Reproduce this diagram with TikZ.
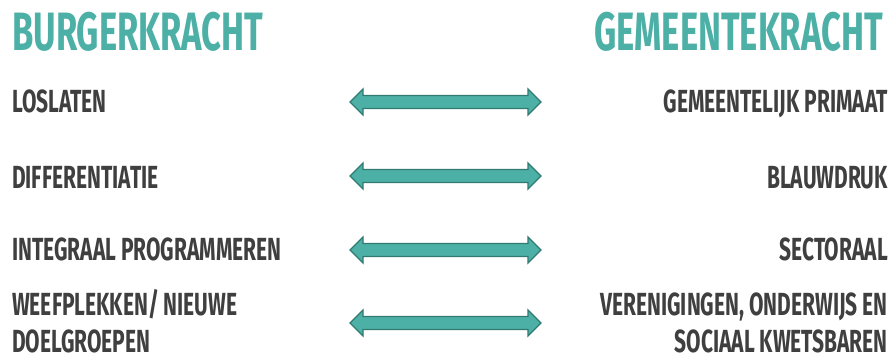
\documentclass[tikz,border=0pt]{standalone}
\usepackage{fontspec}
\setmainfont{Fira Sans}
\newfontfamily\kopfont[FakeStretch=0.64]{Fira Sans}
\newfontfamily\itemfont[FakeStretch=0.655]{Fira Sans}
\usepackage{xcolor}
\usetikzlibrary{positioning,calc}
\definecolor{kracht}{HTML}{4DB0A6}
\definecolor{krachtline}{HTML}{2F7B72}
\definecolor{tekst}{HTML}{3F3F3F}
\tikzset{
  kop/.style={
    inner sep=0pt,
    text=kracht,
    font=\kopfont\fontsize{54}{54}\selectfont\bfseries
  },
  item/.style={
    inner sep=0pt,
    text depth=0pt,
    text=tekst,
    align=left,
    font=\itemfont\fontsize{32}{37}\selectfont\bfseries
  },
  itemr/.style={
    item,
    align=right
  },
  pijl/.style={
    fill=kracht,
    draw=krachtline,
    line width=1.4pt,
    line join=miter
  }
}

\begin{document}
\begin{tikzpicture}[x=1pt,y=-1pt]
  \useasboundingbox (0,0) rectangle (895,356);

  \node[kop, anchor=base west] (burger) at (12,50) {BURGERKRACHT};
  \node[kop, anchor=base east] (gemeente) at (883,50) {GEMEENTEKRACHT};

  \node[item, anchor=base west] (los) at (12,112) {LOSLATEN};
  \node[item, anchor=base west] (diff) at (12,188) {DIFFERENTIATIE};
  \node[item, anchor=base west] (integ) at (12,260) {INTEGRAAL PROGRAMMEREN};
  \node[item, anchor=base west] (weef) at (12,352) {WEEFPLEKKEN/ NIEUWE\\DOELGROEPEN};

  \node[itemr, anchor=base east] (primaat) at (888,112) {GEMEENTELIJK PRIMAAT};
  \node[itemr, anchor=base east] (blauw) at (888,188) {BLAUWDRUK};
  \node[itemr, anchor=base east] (sector) at (888,260) {SECTORAAL};
  \node[itemr, anchor=base east] (veren) at (888,352) {VERENIGINGEN, ONDERWIJS EN\\SOCIAAL KWETSBAREN};

  % dubbele pijlen tussen de kolommen
  \foreach \n/\y in {a/102,b/176,c/250,d/323} {
    \coordinate (l\n) at (350,\y);
    \coordinate (r\n) at (541,\y);
    \draw[pijl] (l\n) -- ++(13,-13) -- ++(0,6.5) -- ($(r\n)+(-13,-6.5)$)
      -- ++(0,-6.5) -- (r\n) -- ++(-13,13) -- ++(0,-6.5)
      -- ($(l\n)+(13,6.5)$) -- ++(0,6.5) -- cycle;
  }
\end{tikzpicture}
\end{document}
